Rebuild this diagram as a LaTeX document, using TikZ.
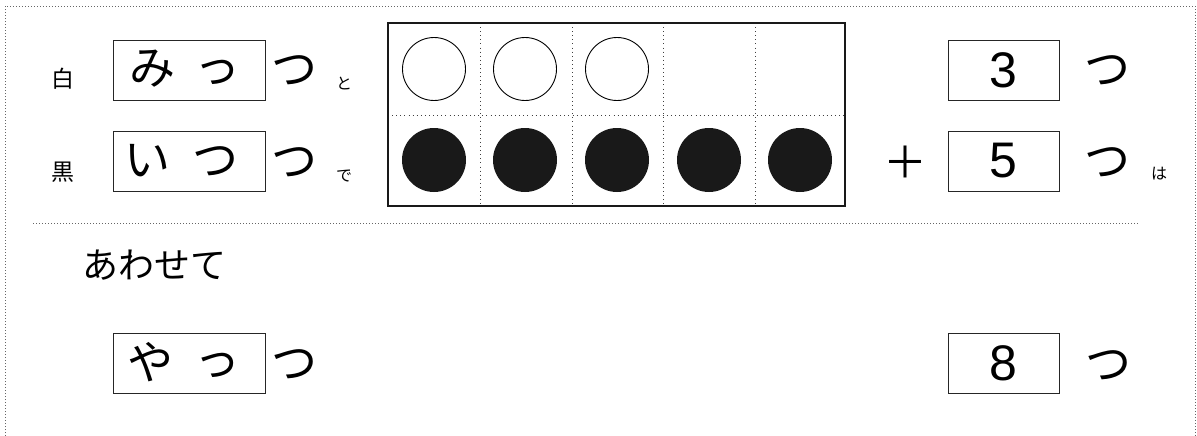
\documentclass[tikz,border=0pt]{standalone}
\usepackage{fontspec}
\setmainfont{Noto Sans CJK JP}
\newfontfamily\digitfont{Liberation Sans}
\begin{document}
\begin{tikzpicture}[x=1pt,y=-1pt,
  ansbox/.style={draw=black!85,line width=0.9pt,minimum width=152pt,minimum height=60pt,inner sep=0pt},
  numbox/.style={draw=black!85,line width=0.9pt,minimum width=111pt,minimum height=60pt,inner sep=0pt},
  big/.style={font=\fontsize{46}{46}\selectfont,inner sep=0pt},
  digit/.style={font=\digitfont\fontsize{50}{50}\selectfont,inner sep=0pt},
  lbl/.style={font=\fontsize{23}{23}\selectfont,inner sep=0pt},
  tiny/.style={font=\fontsize{16}{16}\selectfont,inner sep=0pt},
  dotline/.style={black!60,line width=0.8pt,dash pattern=on 0.8pt off 2.2pt},
  cellline/.style={black!75,line width=0.8pt,dash pattern=on 0.9pt off 3.2pt},
  wcirc/.style={circle,draw=black,line width=0.9pt,minimum size=63pt,inner sep=0pt},
  bcirc/.style={circle,fill=black!90,minimum size=64pt,inner sep=0pt}]
\useasboundingbox (0,0) rectangle (1197,436);
% outer frame
\draw[dotline] (5,436) -- (5,6) -- (1195,6) -- (1195,436);
\draw[dotline] (33,223) -- (1138,223);
% left labels
\node[lbl] (shiro) at (63,79) {白};
\node[lbl] (kuro) at (63,172) {黒};
\node[ansbox] (b1) at (189,70) {};
\node[big] (b1a) at (152,69) {み};
\node[big] (b1b) at (217,72) {っ};
\node[big] (t1) at (294,71) {つ};
\node[tiny] (to) at (344,83) {と};
\node[ansbox] (b2) at (189,161) {};
\node[big] (b2a) at (147,161) {い};
\node[big] (b2b) at (215,162) {つ};
\node[big] (t2) at (294,163) {つ};
\node[tiny] (de) at (344,176) {で};
% ten frame
\draw[cellline] (388,115) -- (845,115);
\foreach \x in {480,572,663,755} \draw[cellline] (\x,23) -- (\x,206);
\draw[line width=1.1pt,black!90] (388,23) rectangle (845,206);
\foreach \i/\x in {1/434,2/525,3/617} \node[wcirc] (w\i) at (\x,69) {};
\foreach \i/\x in {1/434,2/525,3/617,4/709,5/800} \node[bcirc] (k\i) at (\x,160) {};
% right side
\node[numbox] (n3) at (1003.5,70) {};
\node[digit] at (n3.center) {3};
\node[big] (t3) at (1107,71) {つ};
\node[font=\fontsize{44}{44}\selectfont,inner sep=0pt] (plus) at (905,162) {＋};
\node[numbox] (n5) at (1003.5,161) {};
\node[digit] at (n5.center) {5};
\node[big] (t5) at (1107,163) {つ};
\node[tiny] (ha) at (1159,174) {は};
% bottom
\node[font=\fontsize{36}{36}\selectfont,inner sep=0pt] (awa) at (154,265) {あわせて};
\node[ansbox] (b3) at (189,363) {};
\node[big] (b3a) at (150,362) {や};
\node[big] (b3b) at (217,365) {っ};
\node[big] (t6) at (294,365) {つ};
\node[numbox] (n8) at (1003.5,363) {};
\node[digit] at (n8.center) {8};
\node[big] (t8) at (1108,366) {つ};
\end{tikzpicture}
\end{document}
